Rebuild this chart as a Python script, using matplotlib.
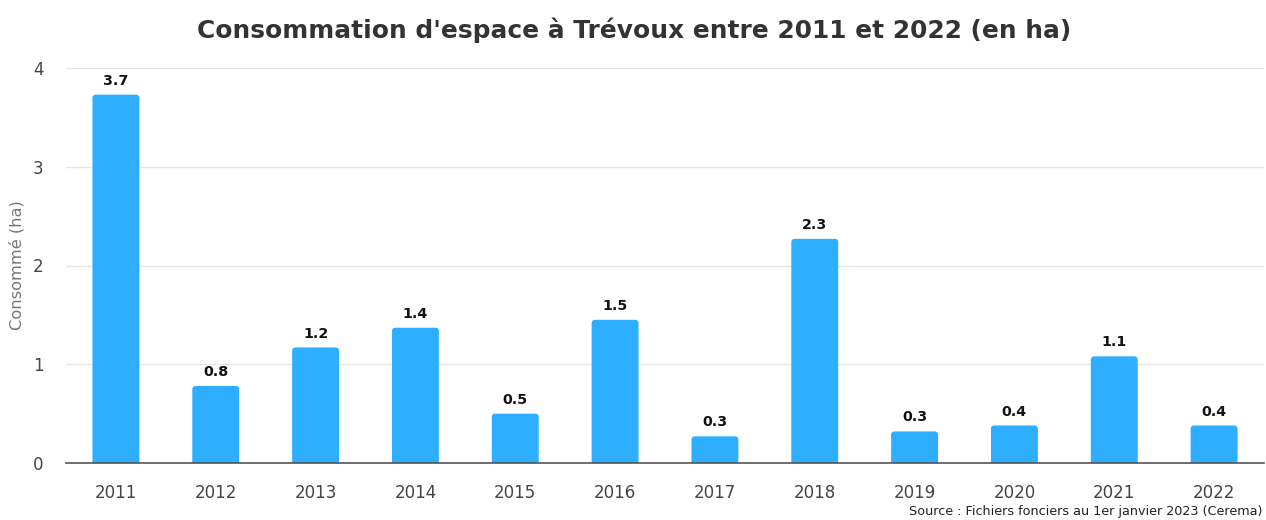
import matplotlib
matplotlib.use("Agg")
import matplotlib.pyplot as plt
from matplotlib.patches import FancyBboxPatch

# données
years = ["2011", "2012", "2013", "2014", "2015", "2016",
         "2017", "2018", "2019", "2020", "2021", "2022"]
values = [3.73, 0.78, 1.17, 1.37, 0.50, 1.45, 0.27, 2.27, 0.32, 0.38, 1.08, 0.38]
labels = ["3.7", "0.8", "1.2", "1.4", "0.5", "1.5", "0.3", "2.3", "0.3", "0.4", "1.1", "0.4"]
yticks = [0, 1, 2, 3, 4]

title = "Consommation d'espace à Trévoux entre 2011 et 2022 (en ha)"
source = "Source : Fichiers fonciers au 1er janvier 2023 (Cerema)"

plt.rcParams['font.family'] = 'sans-serif'
plt.rcParams['font.sans-serif'] = ['DejaVu Sans']
FONT = 'DejaVu Sans'
BAR_COLOR = "#2eaeff"

fig = plt.figure(figsize=(12.66, 5.2), dpi=100)
ax = fig.add_axes([66 / 1266, 57 / 520, 1198 / 1266, 395 / 520])

x = list(range(len(years)))
bars = ax.bar(x, values, width=0.47, color=BAR_COLOR, zorder=3)
# coins supérieurs légèrement arrondis
for b in bars:
    b.set_visible(False)
    ax.add_patch(FancyBboxPatch((b.get_x(), -0.1), b.get_width(), b.get_height() + 0.1,
                                boxstyle="round,pad=0,rounding_size=0.035",
                                mutation_aspect=1.0, color=BAR_COLOR, lw=0,
                                zorder=3, clip_on=True))
for xi, v, lab in zip(x, values, labels):
    ax.annotate(lab, (xi, v), xytext=(0, 5), textcoords="offset points",
                ha="center", va="bottom", fontsize=10.3, fontweight="bold",
                color="#111111", family=FONT)

ax.set_xlim(-0.5, len(years) - 0.5)
ax.set_ylim(0, 4)
ax.set_yticks(yticks)
ax.set_xticks(x)
ax.set_xticklabels(years, family=FONT)
ax.set_yticklabels([str(t) for t in yticks], family=FONT)
ax.tick_params(axis="both", length=0, labelsize=12, labelcolor="#444444")
ax.tick_params(axis="x", pad=15)
ax.tick_params(axis="y", pad=16)
ax.grid(axis="y", color="#e6e6e6", linewidth=1, zorder=0)
for s in ["top", "right", "left"]:
    ax.spines[s].set_visible(False)
ax.spines["bottom"].set_color("#555555")
ax.spines["bottom"].set_linewidth(1.2)
ax.spines["bottom"].set_zorder(4)

ax.set_ylabel("Consommé (ha)", fontsize=11.7, color="#777777", family=FONT)
ax.yaxis.set_label_coords(-41 / 1198, 0.5)

fig.text(634 / 1266, 1 - 30 / 520, title, ha="center", va="center",
         fontsize=17.9, fontweight="bold", color="#333333", family=FONT)
fig.text(1262 / 1266, 1 - 512 / 520, source, ha="right", va="center",
         fontsize=9.2, color="#222222", family=FONT)

fig.savefig("out.png", dpi=100, facecolor="white")
